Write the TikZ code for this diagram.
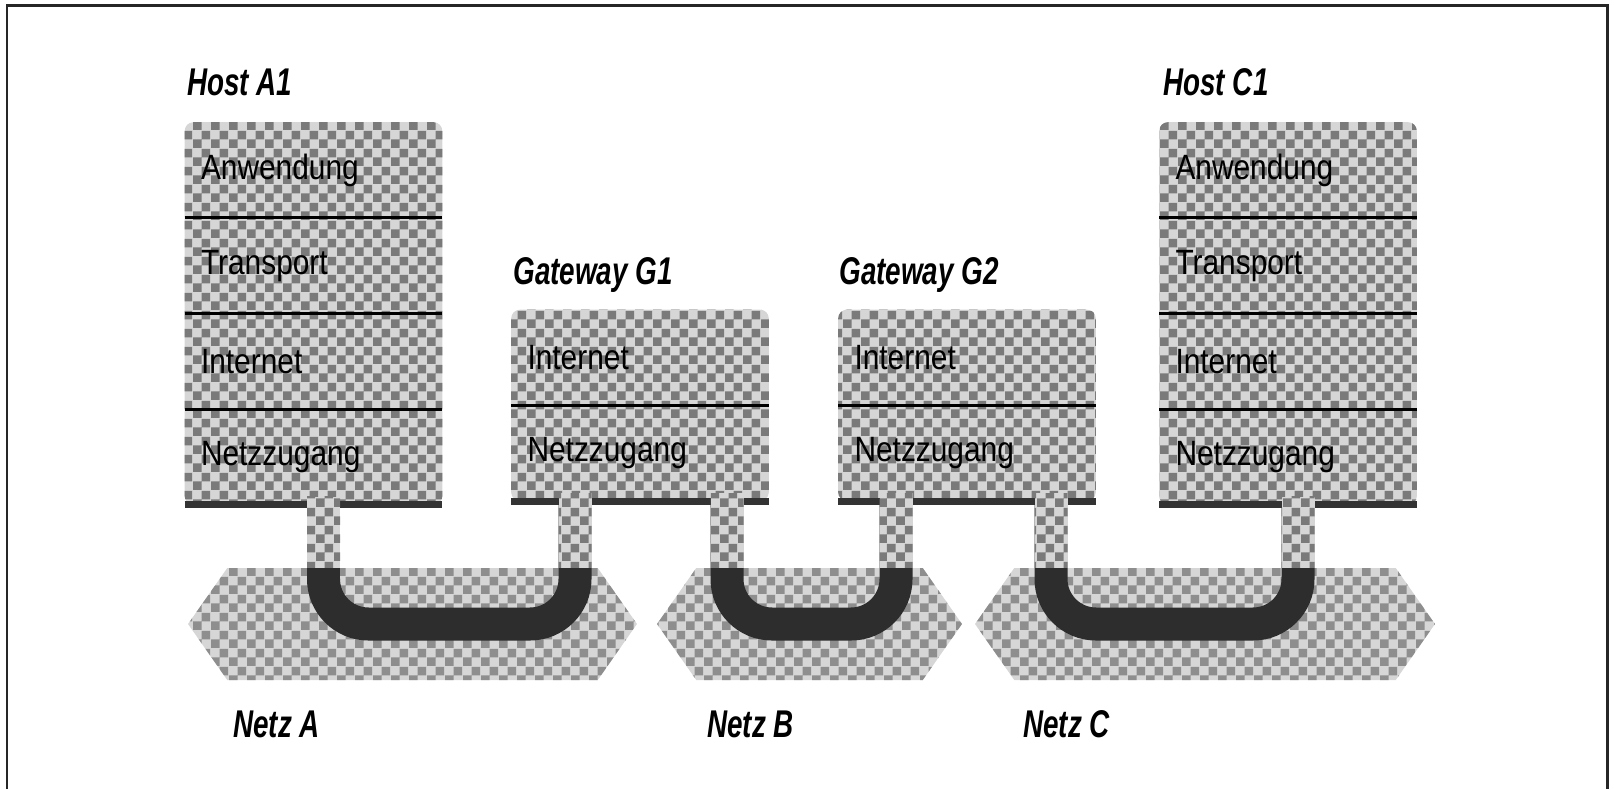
\documentclass[tikz,border=0pt]{standalone}
\usepackage{fontspec}
\setmainfont{Liberation Sans}
\newfontfamily\layerfont[FakeStretch=0.85]{Liberation Sans}
\newfontfamily\tagfont[FakeStretch=0.72]{Liberation Sans}
\usetikzlibrary{positioning,calc,patterns,backgrounds,shapes.symbols}
\definecolor{chklight}{RGB}{214,214,214}
\definecolor{chkdark}{RGB}{122,122,122}
\definecolor{linkdark}{RGB}{45,45,45}
\pgfdeclarepatternformonly{checks}{\pgfpointorigin}{\pgfqpoint{10pt}{10pt}}{\pgfqpoint{10pt}{10pt}}{%
  \pgfpathrectangle{\pgfpointorigin}{\pgfqpoint{5pt}{5pt}}%
  \pgfpathrectangle{\pgfqpoint{5pt}{5pt}}{\pgfqpoint{5pt}{5pt}}%
  \pgfusepath{fill}}
\tikzset{
    checked/.style={
        preaction={fill=chklight},pattern=checks,pattern color=chkdark
    },
    layer/.style={
        minimum width=5.14cm,minimum height=1.9cm,inner sep=0pt,
        text width=4.5cm,align=left,font=\layerfont\fontsize{20}{24}\selectfont
    },
    tag/.style={
        anchor=base west,inner sep=0pt,
        font=\tagfont\fontsize{22}{24}\selectfont\bfseries\itshape
    },
    net/.style={
        signal,signal to=east and west,signal pointer angle=110,
        checked,pattern color=chkdark!85!white,
        minimum height=2.24cm,inner sep=0pt
    },
    link/.style={line width=0.66cm,draw=linkdark,rounded corners=0.9cm},
    divider/.style={line width=0.06cm,draw=black},
    edge/.style={line width=0.14cm,draw=black!80},
    frame/.style={line width=0.06cm,draw=black!85}
}

\begin{document}
\begin{tikzpicture}[x=0.02cm,y=-0.02cm]
\useasboundingbox (0,0) rectangle (1614,789);
\draw[frame] (7,789) |- (1607,5) -- (1607,789);

% Host A1
\node[layer] (a1a) at (313.5,170) {Anwendung};
\node[layer,below=0pt of a1a] (a1t) {Transport};
\node[layer,below=0pt of a1t] (a1i) {Internet};
\node[layer,below=0pt of a1i] (a1n) {Netzzugang};
\node[tag] (a1lbl) at (187,95) {Host A1};

% Gateway G1
\node[layer] (g1i) at (640,357.5) {Internet};
\node[layer,below=0pt of g1i] (g1n) {Netzzugang};
\node[tag] (g1lbl) at (513,284) {Gateway G1};

% Gateway G2
\node[layer] (g2i) at (967,357.5) {Internet};
\node[layer,below=0pt of g2i] (g2n) {Netzzugang};
\node[tag] (g2lbl) at (839,284) {Gateway G2};

% Host C1
\node[layer] (c1a) at (1288,170) {Anwendung};
\node[layer,below=0pt of c1a] (c1t) {Transport};
\node[layer,below=0pt of c1t] (c1i) {Internet};
\node[layer,below=0pt of c1i] (c1n) {Netzzugang};
\node[tag] (c1lbl) at (1163,95) {Host C1};

% Netze
\node[tag] (netalbl) at (233,737) {Netz A};
\node[tag] (netblbl) at (707,737) {Netz B};
\node[tag] (netclbl) at (1023,737) {Netz C};

\coordinate (a1p) at ($(a1n.south)+(10,0)$);
\coordinate (g1p) at ($(g1n.south)+(-65,0)$);
\coordinate (g1q) at ($(g1n.south)+(87,0)$);
\coordinate (g2p) at ($(g2n.south)+(-71,0)$);
\coordinate (g2q) at ($(g2n.south)+(84,0)$);
\coordinate (c1p) at ($(c1n.south)+(10,0)$);

\begin{pgfonlayer}{background}
\node[net,minimum width=8.98cm] (neta) at (412.5,624) {};
\node[net,minimum width=6.1cm] (netb) at (809.5,624) {};
\node[net,minimum width=9.2cm] (netc) at (1205,624) {};

\draw[link] (a1p) -- (a1p |- neta.center) -- (g1p |- neta.center) -- (g1p);
\draw[link] (g1q) -- (g1q |- netb.center) -- (g2p |- netb.center) -- (g2p);
\draw[link] (g2q) -- (g2q |- netc.center) -- (c1p |- netc.center) -- (c1p);

\path[checked,rounded corners=5pt] (a1a.north west) rectangle (a1n.south east);
\path[checked,rounded corners=5pt] (g1i.north west) rectangle (g1n.south east);
\path[checked,rounded corners=5pt] (g2i.north west) rectangle (g2n.south east);
\path[checked,rounded corners=5pt] (c1a.north west) rectangle (c1n.south east);

\foreach \s in {a1n,g1n,g2n,c1n}
    \draw[edge] (\s.south west) -- (\s.south east);

\foreach \s in {a1a,a1t,a1i,g1i,g2i,c1a,c1t,c1i}
    \draw[divider] (\s.south west) -- (\s.south east);

\foreach \p/\n in {a1p/neta,g1p/neta,g1q/netb,g2p/netb,g2q/netc,c1p/netc}
    \path[checked] ($(\p)+(-16.5,-8)$) rectangle ($(\p |- \n.north)+(16.5,0)$);
\end{pgfonlayer}

\end{tikzpicture}
\end{document}
